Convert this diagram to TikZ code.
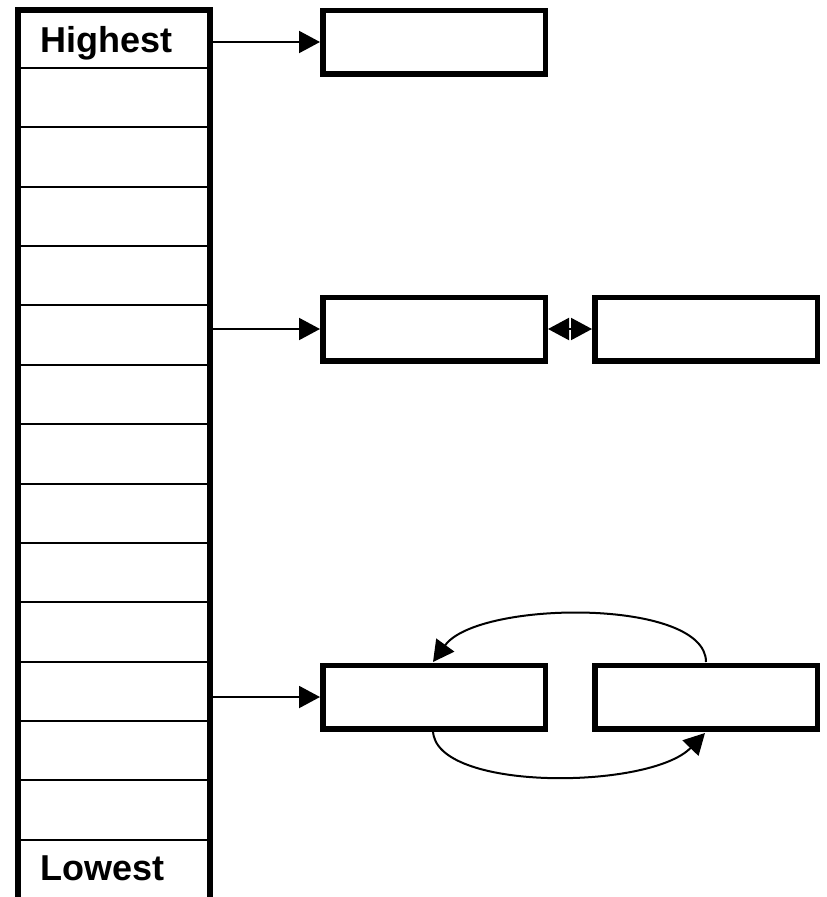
\documentclass[tikz,border=0pt]{standalone}
\usepackage{fontspec}
\setmainfont{Liberation Sans}
\usetikzlibrary{arrows.meta,calc}
\begin{document}
\begin{tikzpicture}[x=1pt,y=-1pt,
  colline/.style={line width=6pt},
  rowline/.style={line width=2pt},
  box/.style={draw,line width=5.5pt,minimum width=222.5pt,minimum height=63.5pt,inner sep=0pt},
  ptr/.style={line width=2pt,-{Triangle[length=21pt,width=22pt]}},
  lbl/.style={font=\bfseries\fontsize{36}{40}\selectfont,anchor=base west,inner sep=0pt}]
\useasboundingbox (0,0) rectangle (827,897);
% column rows
\foreach \k in {0,...,13}{
  \draw[rowline] (18,{68+59.36*\k}) -- (210,{68+59.36*\k});
}
\draw[colline] (18,897) -- (18,9.5) -- (210,9.5) -- (210,897);
\node[lbl] (hi) at (40,52) {Highest};
\node[lbl] (lo) at (40,880) {Lowest};
% pointer starts
\coordinate (p1) at (213,42);
\coordinate (p2) at (213,329);
\coordinate (p3) at (213,697);
% boxes
\node[box] (b1) at (434,42) {};
\node[box] (b2) at (434,329) {};
\node[box] (c2) at (706,329) {};
\node[box] (b3) at (434,697) {};
\node[box] (c3) at (706,697) {};
% pointers
\draw[ptr] (p1) -- (b1.west);
\draw[ptr] (p2) -- (b2.west);
\draw[ptr] (p3) -- (b3.west);
% double arrow
\coordinate (m2) at ($(b2.east)!0.5!(c2.west)$);
\draw[ptr] (m2) -- (b2.east);
\draw[ptr] (m2) -- (c2.west);
% circular links
\draw[ptr] (706,662) .. controls (706,598) and (478,600) .. (433,662);
\draw[ptr] (433,730) .. controls (433,792) and (650,790) .. (705,733);
\end{tikzpicture}
\end{document}
